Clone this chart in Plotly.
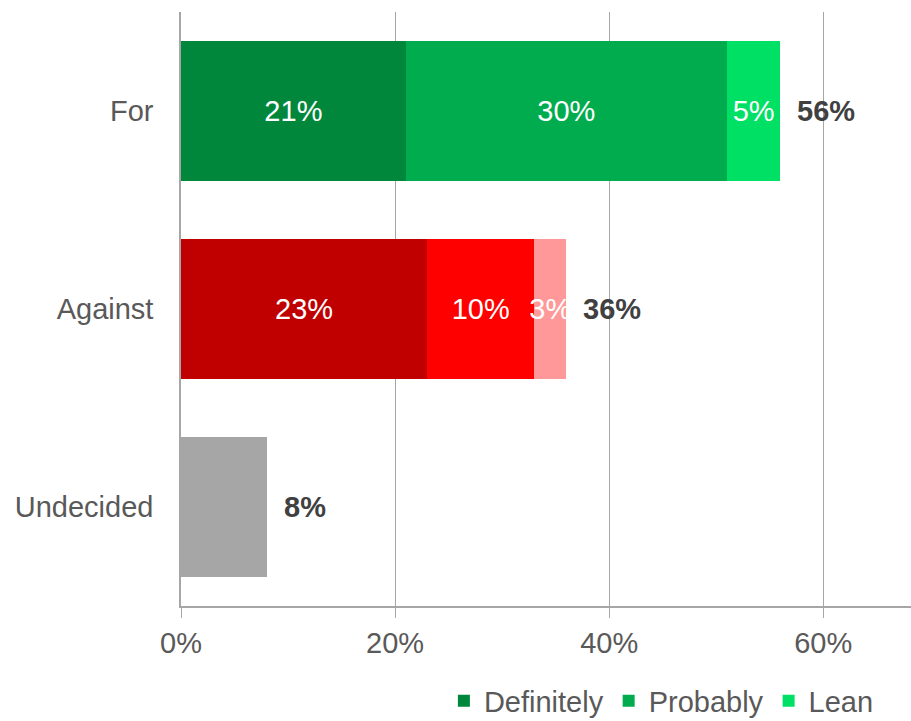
import plotly.graph_objects as go

# Survey responses by position (percent of respondents)
categories = ["For", "Against", "Undecided"]
definitely = [21, 23, 8]
probably = [30, 10, 0]
lean = [5, 3, 0]
totals = [56, 36, 8]

# Inside labels (Undecided carries only its total)
definitely_text = ["21%", "23%", ""]
probably_text = ["30%", "10%", ""]
lean_text = ["5%", "3%", ""]

x_ticks = [0, 20, 40, 60]
x_tick_labels = ["0%", "20%", "40%", "60%"]

FONT = "Liberation Sans, Arial, sans-serif"
TEXT_GREY = "#595959"
SIZE = 29

fig = go.Figure()

series = [
    ("Definitely", definitely, definitely_text, ["#00873C", "#C00000", "#A6A6A6"]),
    ("Probably", probably, probably_text, ["#00AC4E", "#FF0000", "#A6A6A6"]),
    ("Lean", lean, lean_text, ["#00E065", "#FF9999", "#A6A6A6"]),
]

for name, vals, txt, colors in series:
    fig.add_trace(go.Bar(
        name=name,
        y=categories,
        x=vals,
        orientation="h",
        marker=dict(color=colors, line=dict(width=0)),
        text=txt,
        textposition="inside",
        insidetextanchor="middle",
        textangle=0,
        constraintext="none",
        textfont=dict(family=FONT, size=SIZE, color="white"),
        hoverinfo="skip",
    ))

# Bold totals to the right of each bar
for cat, tot in zip(categories, totals):
    fig.add_annotation(
        x=tot, y=cat, text=f"<b>{tot}%</b>",
        xanchor="left", yanchor="middle", xshift=15, showarrow=False,
        font=dict(family=FONT, size=SIZE, color="#404040"),
    )

fig.update_layout(
    width=911, height=721,
    margin=dict(l=181, r=0, t=12, b=115, autoexpand=False),
    barmode="stack",
    bargap=0.29,
    plot_bgcolor="white",
    paper_bgcolor="white",
    font=dict(family=FONT, size=SIZE, color=TEXT_GREY),
    legend=dict(
        orientation="h",
        x=0.956, xanchor="right",
        yref="container", y=0.028, yanchor="middle",
        font=dict(family=FONT, size=SIZE, color=TEXT_GREY),
        itemwidth=30,
        traceorder="normal",
        bgcolor="rgba(0,0,0,0)",
    ),
    xaxis=dict(
        range=[0, 68.2],
        tickvals=x_ticks,
        ticktext=x_tick_labels,
        showgrid=True, gridcolor="#A6A6A6", gridwidth=1,
        showline=True, linecolor="#A6A6A6", linewidth=1.5,
        ticks="outside", ticklen=10, tickcolor="#A6A6A6",
        zeroline=False,
        tickfont=dict(family=FONT, size=SIZE, color=TEXT_GREY),
        fixedrange=True,
    ),
    yaxis=dict(
        autorange="reversed",
        showgrid=False,
        showline=True, linecolor="#A6A6A6", linewidth=1.5,
        ticks="",
        ticklabelstandoff=20,
        tickfont=dict(family=FONT, size=SIZE, color=TEXT_GREY),
        fixedrange=True,
    ),
)

fig.write_html("out.html")
